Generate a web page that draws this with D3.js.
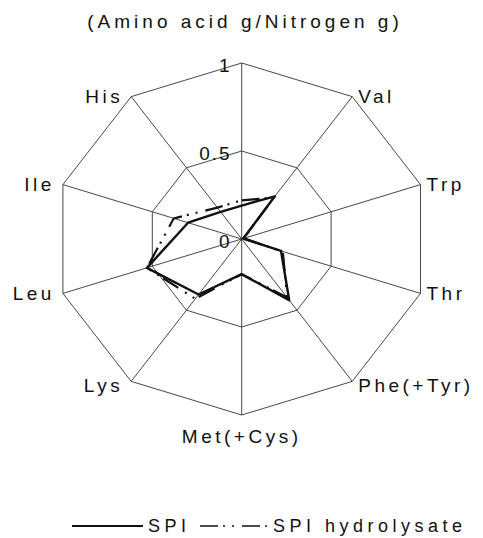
<!DOCTYPE html>
<html>
<head>
<meta charset="utf-8">
<script src="https://cdn.jsdelivr.net/npm/d3@7"></script>
<style>
body{margin:0;background:#fff;}
text{font-family:"Liberation Sans",Arial,sans-serif;fill:#111;}
</style>
</head>
<body>
<svg id="radar"></svg>
<script>
// categories clockwise from the top axis (top axis has no label)
var categories = ["", "Val", "Trp", "Thr", "Phe(+Tyr)", "Met(+Cys)", "Lys", "Leu", "Ile", "His"]
var spi        = [0.19, 0.30, 0.01, 0.22, 0.43, 0.20, 0.39, 0.53, 0.30, 0.19]
var hydrolysate= [0.22, 0.29, 0.01, 0.23, 0.41, 0.20, 0.42, 0.53, 0.38, 0.22]
var ticks = [0, 0.5, 1]
var tickLabels = ["0", "0.5", "1"]
var title = "(Amino acid g/Nitrogen g)"
var seriesNames = ["SPI", "SPI hydrolysate"]

var width = 483, height = 538
var cx = 241.7, cy = 239
var svg = d3.select("#radar").attr("width", width).attr("height", height)

// scan is slightly wider than tall, so x and y radii differ
var rx = d3.scaleLinear().domain([0, 1]).range([0, 188])
var ry = d3.scaleLinear().domain([0, 1]).range([0, 176])
var n = categories.length
var angle = d3.scaleLinear().domain([0, n]).range([0, 2 * Math.PI])

function px(v, i){ return cx + rx(v) * Math.sin(angle(i)) }
function py(v, i){ return cy - ry(v) * Math.cos(angle(i)) }

var g = svg.append("g")

// rings
var ring = d3.line().x(d => px(d.v, d.i)).y(d => py(d.v, d.i)).curve(d3.curveLinearClosed)
ticks.filter(t => t > 0).forEach(t => {
  g.append("path")
    .attr("d", ring(d3.range(n).map(i => ({v: t, i: i}))))
    .attr("fill", "none")
    .attr("stroke", "#333")
    .attr("stroke-width", 0.9)
})
// spokes
g.selectAll(".spoke")
  .data(d3.range(n))
  .enter().append("line")
  .classed("spoke", true)
  .attr("x1", cx).attr("y1", cy)
  .attr("x2", i => px(1, i)).attr("y2", i => py(1, i))
  .attr("stroke", "#333")
  .attr("stroke-width", 0.9)

// tick labels along the top axis
g.selectAll(".tick")
  .data(ticks)
  .enter().append("text")
  .classed("tick", true)
  .attr("x", cx - 10)
  .attr("y", t => py(t, 0) + 2)
  .attr("text-anchor", "end")
  .attr("dominant-baseline", "central")
  .attr("font-size", "19px")
  .attr("letter-spacing", "2px")
  .text((t, i) => tickLabels[i])

// category labels
g.selectAll(".cat")
  .data(categories)
  .enter().append("text")
  .classed("cat", true)
  .attr("x", (d, i) => {
    var s = Math.sin(angle(i))
    return px(1, i) + (s > 0.1 ? 6 : s < -0.1 ? -8 : 0)
  })
  .attr("y", (d, i) => {
    var c = Math.cos(angle(i))
    return py(1, i) + (c < -0.9 ? 21 : c < -0.5 ? 4 : 0)
  })
  .attr("text-anchor", (d, i) => {
    var s = Math.sin(angle(i))
    return s > 0.1 ? "start" : s < -0.1 ? "end" : "middle"
  })
  .attr("dominant-baseline", "central")
  .attr("font-size", "19px")
  .attr("letter-spacing", "3.5px")
  .text(d => d)

// title
svg.append("text")
  .attr("x", 245)
  .attr("y", 28)
  .attr("text-anchor", "middle")
  .attr("font-size", "19px")
  .attr("letter-spacing", "4px")
  .text(title)

// data polygons
var dashDot = "18,5,2,7,2,8"
var poly = d3.line().x((d, i) => px(d, i)).y((d, i) => py(d, i)).curve(d3.curveLinearClosed)
g.append("path")
  .attr("d", poly(hydrolysate))
  .attr("fill", "none")
  .attr("stroke", "#111")
  .attr("stroke-width", 2.2)
  .attr("stroke-dasharray", dashDot)
g.append("path")
  .attr("d", poly(spi))
  .attr("fill", "none")
  .attr("stroke", "#111")
  .attr("stroke-width", 2.4)
  .attr("stroke-linejoin", "round")

// legend
var leg = svg.append("g")
leg.append("line").attr("x1", 72).attr("x2", 143).attr("y1", 526).attr("y2", 526)
  .attr("stroke", "#111").attr("stroke-width", 2)
leg.append("text").attr("x", 148).attr("y", 532)
  .attr("font-size", "18px").attr("letter-spacing", "4.5px").text(seriesNames[0])
leg.append("line").attr("x1", 200).attr("x2", 270).attr("y1", 526).attr("y2", 526)
  .attr("stroke", "#111").attr("stroke-width", 1.6).attr("stroke-dasharray", dashDot)
leg.append("text").attr("x", 273).attr("y", 532)
  .attr("font-size", "18px").attr("letter-spacing", "4.5px").text(seriesNames[1])
</script>
</body>
</html>
